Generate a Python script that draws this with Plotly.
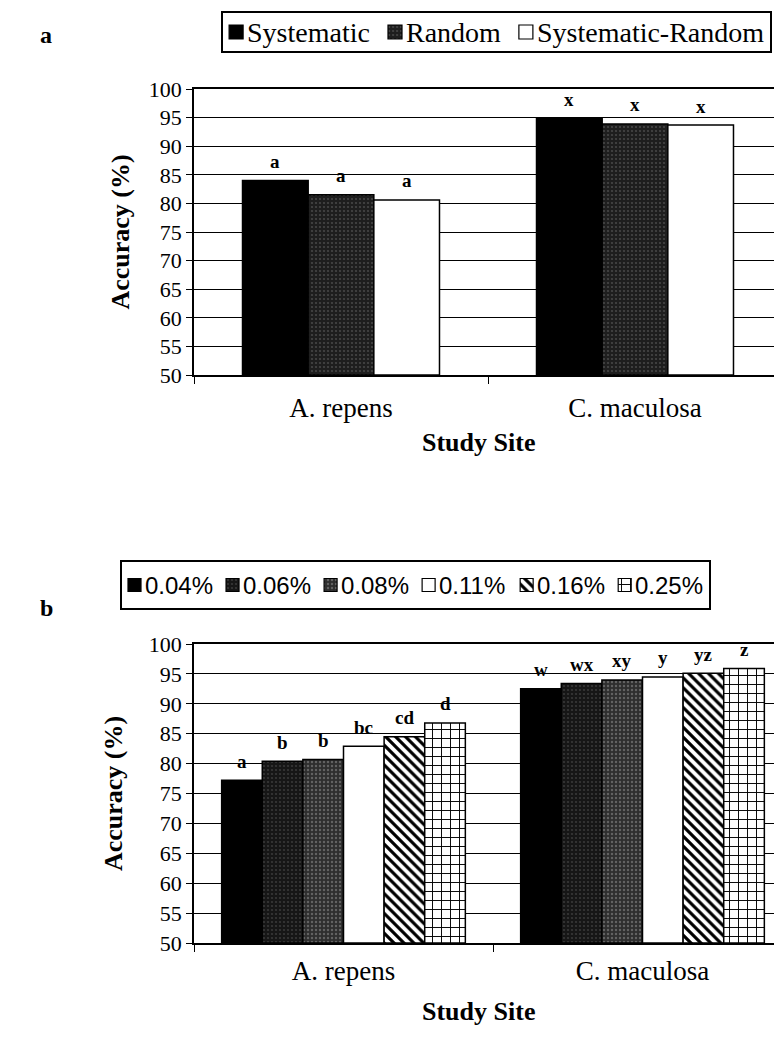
import plotly.graph_objects as go

# ---------------- data ----------------
sites = ["A. repens", "C. maculosa"]

a_series = ["Systematic", "Random", "Systematic-Random"]
a_systematic = [84.0, 94.9]
a_random = [81.5, 93.9]
a_sys_random = [80.6, 93.7]
a_letters_systematic = ["a", "x"]
a_letters_random = ["a", "x"]
a_letters_sys_random = ["a", "x"]

b_series = ["0.04%", "0.06%", "0.08%", "0.11%", "0.16%", "0.25%"]
b_004 = [77.2, 92.5]
b_006 = [80.4, 93.4]
b_008 = [80.7, 94.0]
b_011 = [82.9, 94.5]
b_016 = [84.5, 95.1]
b_025 = [86.8, 95.9]
b_letters = [["a", "w"], ["b", "wx"], ["b", "xy"], ["bc", "y"], ["cd", "yz"], ["d", "z"]]

y_ticks = [50, 55, 60, 65, 70, 75, 80, 85, 90, 95, 100]

# ---------------- styles / layout constants ----------------
SERIF = "Liberation Serif"
SANS = "Liberation Sans"
W, H = 782, 1054

styles_a = [
    dict(color="black", pattern=dict(shape="")),
    dict(color="#1e1e1e", pattern=dict(shape=".", fgcolor="#6e6e6e", size=4, solidity=0.22)),
    dict(color="white", pattern=dict(shape="")),
]
styles_b = [
    dict(color="black", pattern=dict(shape="")),
    dict(color="#161616", pattern=dict(shape=".", fgcolor="#5a5a5a", size=4, solidity=0.22)),
    dict(color="#2e2e2e", pattern=dict(shape=".", fgcolor="#999999", size=4, solidity=0.28)),
    dict(color="white", pattern=dict(shape="")),
    dict(color="white", pattern=dict(shape="\\", fgcolor="black", bgcolor="white", size=7,
                                     solidity=0.45, fillmode="replace")),
    dict(color="white", pattern=dict(shape="+", fgcolor="black", bgcolor="white", size=9,
                                     solidity=0.2, fillmode="replace")),
]

# approximate advance widths (per 1000 em) for legend layout
TIMES_W = {"S": 556, "y": 500, "s": 389, "t": 278, "e": 444, "m": 778, "a": 444, "i": 278,
           "c": 444, "R": 667, "n": 500, "d": 500, "o": 500, "-": 333}
ARIAL_W = {d: 556 for d in "0123456789"}
ARIAL_W.update({".": 278, "%": 889})


def text_w(s, table, size):
    return sum(table.get(ch, 500) for ch in s) * size / 1000.0


fig = go.Figure()
annotations = []


def add_group(series_names, values, letters, styles, group_width, xaxis, yaxis):
    n = len(series_names)
    bw = group_width / n
    for i, (name, vals, lets, st) in enumerate(zip(series_names, values, letters, styles)):
        off = -group_width / 2 + i * bw
        xs = list(range(len(sites)))
        fig.add_trace(go.Bar(
            name=name, x=xs, y=[v - 50 for v in vals], base=50,
            width=bw, offset=off,
            marker=dict(color=st["color"], pattern=st["pattern"],
                        line=dict(color="black", width=1.5)),
            xaxis=xaxis, yaxis=yaxis, showlegend=False,
            customdata=vals,
            hovertemplate="%{customdata}<extra>" + name + "</extra>",
        ))
        for xi, (v, t) in enumerate(zip(vals, lets)):
            annotations.append(dict(
                x=xi + off + bw / 2, y=v, xref=xaxis, yref=yaxis,
                text="<b>" + t + "</b>", showarrow=False, yshift=19,
                yanchor="middle", font=dict(family=SERIF, size=19, color="black"),
            ))


add_group(a_series, [a_systematic, a_random, a_sys_random],
          [a_letters_systematic, a_letters_random, a_letters_sys_random],
          styles_a, 0.67, "x", "y")
add_group(b_series, [b_004, b_006, b_008, b_011, b_016, b_025],
          b_letters, styles_b, 0.815, "x2", "y2")


def add_legend(series_names, styles, font_family, font_size, table, box_top, box_bot,
               xaxis, yaxis, left=None, right=None, pad=6, sw=14, gap=4, spacing=18):
    widths = [text_w(s, table, font_size) for s in series_names]
    total = 2 * pad + sum(sw + gap + w for w in widths) + spacing * (len(widths) - 1)
    if left is None:
        left = right - total
    right = min(left + total, W - 1)
    box_h = box_bot - box_top
    cur = pad
    for name, st, w in zip(series_names, styles, widths):
        fig.add_trace(go.Bar(
            x=[cur + sw / 2], y=[sw], base=[(box_h - sw) / 2], width=[sw],
            marker=dict(color=st["color"], pattern=st["pattern"],
                        line=dict(color="black", width=1.2)),
            xaxis=xaxis, yaxis=yaxis, showlegend=False, hoverinfo="skip",
        ))
        annotations.append(dict(
            x=cur + sw + gap - 2, y=box_h / 2, xref=xaxis, yref=yaxis, text=name,
            showarrow=False, xanchor="left", yanchor="middle",
            font=dict(family=font_family, size=font_size, color="black"),
        ))
        cur += sw + gap + w + spacing
    frame = dict(showline=True, mirror=True, linecolor="black", linewidth=1.5,
                 showticklabels=False, showgrid=False, zeroline=False, ticks="",
                 fixedrange=True)
    return (dict(domain=[left / W, right / W], range=[0, right - left], **frame),
            dict(domain=[1 - box_bot / H, 1 - box_top / H], range=[0, box_h], **frame))


leg_a_x, leg_a_y = add_legend(a_series, styles_a, SERIF, 28, TIMES_W, 5, 43, "x3", "y3",
                              right=762, pad=6, sw=14, gap=4, spacing=18)
leg_b_x, leg_b_y = add_legend(b_series, styles_b, SANS, 24, ARIAL_W, 554, 600, "x4", "y4",
                              left=114, pad=6, sw=13, gap=4, spacing=13)

axis_common = dict(showline=True, linecolor="black", linewidth=1.5, mirror=True,
                   automargin=False)


def y_axis(title_standoff):
    return dict(range=[50, 100], tickvals=y_ticks, showgrid=True, gridcolor="black",
                gridwidth=1, ticks="outside", ticklen=6, tickcolor="black", zeroline=False,
                tickfont=dict(family=SERIF, size=22, color="black"),
                title=dict(text="<b>Accuracy (%)</b>",
                           font=dict(family=SERIF, size=26, color="black"),
                           standoff=title_standoff),
                **axis_common)


def x_axis(label_standoff):
    return dict(tickvals=[0, 1], ticktext=sites, ticks="", showgrid=False, zeroline=False,
                ticklabelstandoff=label_standoff,
                tickfont=dict(family=SERIF, size=27, color="black"),
                minor=dict(tick0=0.5, dtick=1, ticks="outside", ticklen=7, tickcolor="black",
                           showgrid=False),
                **axis_common)


CAT_W_B = 299.0
fig.update_layout(
    width=W, height=H,
    margin=dict(l=0, r=0, t=0, b=0),
    paper_bgcolor="white", plot_bgcolor="white",
    showlegend=False,
    xaxis=dict(domain=[186 / W, 774 / W], range=[-0.5, 1.5], anchor="y", **x_axis(8)),
    yaxis=dict(domain=[1 - 367 / H, 1 - 81 / H], anchor="x", **y_axis(12)),
    xaxis2=dict(domain=[186 / W, 1.0], range=[-0.5, -0.5 + (W - 186) / CAT_W_B], anchor="y2",
                **x_axis(3)),
    yaxis2=dict(domain=[1 - 935 / H, 1 - 636 / H], anchor="x2", **y_axis(19)),
    xaxis3=dict(anchor="y3", **leg_a_x),
    yaxis3=dict(anchor="x3", **leg_a_y),
    xaxis4=dict(anchor="y4", **leg_b_x),
    yaxis4=dict(anchor="x4", **leg_b_y),
)

# x-axis titles
for ty in (434, 1003):
    annotations.append(dict(x=470 / W, y=1 - ty / H, xref="paper", yref="paper",
                            text="<b>Study Site</b>", showarrow=False, yanchor="middle",
                            font=dict(family=SERIF, size=26, color="black")))

# panel letters
annotations.append(dict(x=30 / W, y=1 - 12 / H, xref="paper", yref="paper", text="<b>a</b>",
                        showarrow=False, font=dict(family=SERIF, size=24, color="black")))
annotations.append(dict(x=30 / W, y=1 - 600 / H, xref="paper", yref="paper", text="<b>b</b>",
                        showarrow=False, font=dict(family=SERIF, size=24, color="black")))
fig.update_layout(annotations=annotations)

fig.write_html("out.html")
